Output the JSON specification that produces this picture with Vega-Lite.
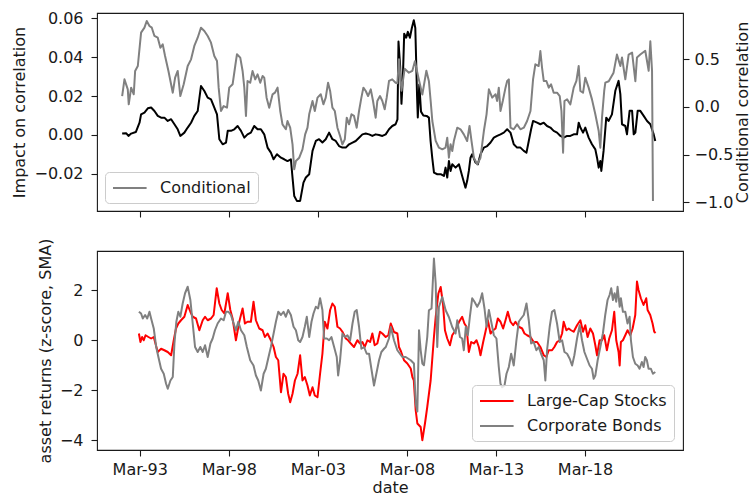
{
"$schema": "https://vega.github.io/schema/vega-lite/v6.json",
"padding": {"left": 11, "top": 9, "right": 2, "bottom": 0},
"background": "white",
"datasets": {
"impact": [
{"date":"1992-03-05","impact":0.0007},{"date":"1992-05-25","impact":0.0009},{"date":"1992-07-12","impact":-0.0005},{"date":"1992-09-05","impact":0.0007},{"date":"1992-12-10","impact":0.0015},
{"date":"1993-02-24","impact":0.0063},{"date":"1993-03-28","impact":0.0106},{"date":"1993-06-05","impact":0.0115},{"date":"1993-08-13","impact":0.0137},{"date":"1993-10-20","impact":0.0141},{"date":"1993-12-27","impact":0.0123},
{"date":"1994-03-05","impact":0.0098},{"date":"1994-05-12","impact":0.0089},{"date":"1994-07-19","impact":0.0089},{"date":"1994-09-26","impact":0.0072},{"date":"1994-12-04","impact":0.0081},
{"date":"1995-02-10","impact":0.0055},{"date":"1995-04-18","impact":0.0029},{"date":"1995-06-11","impact":-0.0005},{"date":"1995-09-02","impact":0.0012},{"date":"1995-11-09","impact":0.0038},
{"date":"1996-01-17","impact":0.0063},{"date":"1996-03-24","impact":0.0098},{"date":"1996-06-01","impact":0.0123},{"date":"1996-08-08","impact":0.0252},{"date":"1996-10-16","impact":0.0226},{"date":"1996-12-23","impact":0.0192},
{"date":"1997-03-01","impact":0.0183},{"date":"1997-04-24","impact":0.0149},{"date":"1997-07-02","impact":0.0106},{"date":"1997-08-19","impact":-0.0022},{"date":"1997-10-26","impact":-0.0048},
{"date":"1998-01-03","impact":-0.0039},{"date":"1998-02-07","impact":0.0021},{"date":"1998-04-14","impact":0.0021},{"date":"1998-06-22","impact":0.0029},{"date":"1998-08-29","impact":0.0046},{"date":"1998-11-06","impact":0.0021},
{"date":"1999-01-13","impact":-0.0014},{"date":"1999-03-20","impact":0.0003},{"date":"1999-05-28","impact":0.0012},{"date":"1999-08-04","impact":0.0046},{"date":"1999-10-12","impact":0.0029},{"date":"1999-12-19","impact":0.0029},
{"date":"2000-02-26","impact":0.0003},{"date":"2000-05-04","impact":-0.0065},{"date":"2000-07-11","impact":-0.0091},{"date":"2000-09-05","impact":-0.0125},{"date":"2000-11-12","impact":-0.0099},
{"date":"2001-02-03","impact":-0.0117},{"date":"2001-04-10","impact":-0.0125},{"date":"2001-06-17","impact":-0.0134},{"date":"2001-08-25","impact":-0.0125},{"date":"2001-09-28","impact":-0.0219},{"date":"2001-11-02","impact":-0.0314},{"date":"2001-12-26","impact":-0.0339},
{"date":"2002-03-03","impact":-0.0339},{"date":"2002-05-10","impact":-0.0245},{"date":"2002-06-28","impact":-0.0219},{"date":"2002-09-05","impact":-0.0202},{"date":"2002-11-12","impact":-0.0082},
{"date":"2003-01-19","impact":-0.0031},{"date":"2003-03-26","impact":-0.0022},{"date":"2003-06-03","impact":-0.0039},{"date":"2003-08-10","impact":-0.0022},{"date":"2003-10-18","impact":0.0012},{"date":"2003-12-25","impact":-0.0022},
{"date":"2004-03-02","impact":-0.0031},{"date":"2004-05-09","impact":-0.0057},{"date":"2004-07-17","impact":-0.0065},{"date":"2004-09-24","impact":-0.0065},{"date":"2004-12-01","impact":-0.0048},
{"date":"2005-02-09","impact":-0.0039},{"date":"2005-04-16","impact":-0.0031},{"date":"2005-06-23","impact":-0.0014},{"date":"2005-08-31","impact":0.0003},{"date":"2005-11-08","impact":0.0007},
{"date":"2006-01-15","impact":0.0003},{"date":"2006-03-23","impact":-0.0005},{"date":"2006-05-30","impact":0.0003},{"date":"2006-08-07","impact":0.0},{"date":"2006-10-14","impact":-0.0005},{"date":"2006-12-22","impact":0.0003},
{"date":"2007-02-28","impact":0.0029},{"date":"2007-05-05","impact":0.0046},{"date":"2007-07-13","impact":0.0055},{"date":"2007-08-20","impact":0.008},{"date":"2007-09-10","impact":0.048},{"date":"2007-10-15","impact":0.035},{"date":"2007-11-10","impact":0.016},{"date":"2007-12-10","impact":0.030},
{"date":"2008-01-05","impact":0.052},{"date":"2008-02-15","impact":0.050},{"date":"2008-03-20","impact":0.053},{"date":"2008-05-01","impact":0.050},{"date":"2008-06-10","impact":0.055},{"date":"2008-07-20","impact":0.059},{"date":"2008-08-20","impact":0.055},{"date":"2008-09-25","impact":0.020},{"date":"2008-10-10","impact":0.009},{"date":"2008-11-10","impact":0.026},{"date":"2008-12-15","impact":0.012},
{"date":"2009-02-01","impact":0.010},{"date":"2009-04-08","impact":0.0098},{"date":"2009-05-26","impact":0.0089},{"date":"2009-06-29","impact":-0.0031},{"date":"2009-08-02","impact":-0.0117},{"date":"2009-09-07","impact":-0.0194},{"date":"2009-11-14","impact":-0.0202},
{"date":"2010-01-22","impact":-0.0202},{"date":"2010-03-29","impact":-0.0211},{"date":"2010-05-02","impact":-0.0168},{"date":"2010-06-06","impact":-0.0219},{"date":"2010-07-10","impact":-0.0134},{"date":"2010-08-13","impact":-0.0185},{"date":"2010-09-17","impact":-0.0151},{"date":"2010-11-24","impact":-0.0168},
{"date":"2011-02-01","impact":-0.0151},{"date":"2011-04-08","impact":-0.0211},{"date":"2011-06-15","impact":-0.0271},{"date":"2011-07-19","impact":-0.0237},{"date":"2011-08-23","impact":-0.0185},{"date":"2011-09-26","impact":-0.0117},{"date":"2011-10-30","impact":-0.0099},
{"date":"2012-01-07","impact":-0.0142},{"date":"2012-02-24","impact":-0.0151},{"date":"2012-04-18","impact":-0.0099},{"date":"2012-06-26","impact":-0.0065},{"date":"2012-09-02","impact":-0.0057},{"date":"2012-11-10","impact":-0.0039},
{"date":"2013-01-17","impact":-0.0014},{"date":"2013-03-25","impact":-0.0005},{"date":"2013-06-02","impact":0.0003},{"date":"2013-08-09","impact":0.0012},{"date":"2013-10-17","impact":0.0029},{"date":"2013-12-24","impact":0.0012},
{"date":"2014-03-01","impact":-0.0048},{"date":"2014-05-08","impact":-0.0065},{"date":"2014-07-16","impact":-0.0065},{"date":"2014-09-23","impact":-0.0082},{"date":"2014-11-17","impact":-0.0091},
{"date":"2015-01-03","impact":-0.0031},{"date":"2015-02-20","impact":0.0029},{"date":"2015-04-01","impact":0.0072},{"date":"2015-06-22","impact":0.0063},{"date":"2015-08-29","impact":0.0055},{"date":"2015-11-06","impact":0.0063},
{"date":"2016-01-13","impact":0.0046},{"date":"2016-03-21","impact":0.0038},{"date":"2016-05-28","impact":0.0021},{"date":"2016-08-05","impact":0.0012},{"date":"2016-10-13","impact":-0.0005},{"date":"2016-12-19","impact":-0.0014},
{"date":"2017-02-27","impact":-0.0005},{"date":"2017-05-05","impact":-0.0005},{"date":"2017-07-12","impact":0.0003},{"date":"2017-09-19","impact":0.0003},{"date":"2017-10-23","impact":0.0063},{"date":"2017-11-26","impact":0.0038},
{"date":"2018-01-20","impact":0.0012},{"date":"2018-03-07","impact":0.0038},{"date":"2018-05-15","impact":-0.0014},{"date":"2018-07-22","impact":-0.0048},{"date":"2018-09-29","impact":-0.0074},{"date":"2018-11-03","impact":-0.0117},{"date":"2018-12-07","impact":-0.0168},
{"date":"2019-01-09","impact":-0.0134},{"date":"2019-01-30","impact":-0.0185},{"date":"2019-03-17","impact":-0.0082},{"date":"2019-05-11","impact":0.0089},{"date":"2019-06-27","impact":0.0072},{"date":"2019-09-05","impact":0.0106},{"date":"2019-11-13","impact":0.0227},
{"date":"2020-01-19","impact":0.0278},{"date":"2020-02-24","impact":0.0210},{"date":"2020-03-29","impact":0.0055},{"date":"2020-06-05","impact":0.0046},{"date":"2020-07-09","impact":0.0003},{"date":"2020-09-01","impact":0.0124},{"date":"2020-10-22","impact":0.0124},{"date":"2020-11-24","impact":0.0003},{"date":"2020-12-28","impact":0.0012},
{"date":"2021-02-13","impact":0.0124},{"date":"2021-04-08","impact":0.0124},{"date":"2021-06-17","impact":0.0098},{"date":"2021-08-25","impact":0.0072},{"date":"2021-10-31","impact":0.0055},{"date":"2022-01-08","impact":0.0003},{"date":"2022-02-09","impact":-0.0031}
],
"cond": [
{"date":"1992-03-05","conditional":0.115},{"date":"1992-04-21","conditional":0.290},{"date":"1992-06-28","conditional":0.185},{"date":"1992-07-18","conditional":0.028},{"date":"1992-09-05","conditional":0.203},{"date":"1992-10-29","conditional":0.133},{"date":"1992-11-26","conditional":0.378},
{"date":"1993-01-20","conditional":0.430},{"date":"1993-03-28","conditional":0.780},{"date":"1993-06-05","conditional":0.832},{"date":"1993-07-22","conditional":0.902},{"date":"1993-09-16","conditional":0.850},{"date":"1993-11-03","conditional":0.832},{"date":"1993-12-27","conditional":0.745},
{"date":"1994-03-05","conditional":0.727},{"date":"1994-04-28","conditional":0.622},{"date":"1994-06-15","conditional":0.657},{"date":"1994-08-02","conditional":0.535},{"date":"1994-10-10","conditional":0.378},
{"date":"1995-01-07","conditional":0.150},{"date":"1995-02-24","conditional":0.308},{"date":"1995-04-18","conditional":0.378},{"date":"1995-06-11","conditional":0.115},{"date":"1995-08-19","conditional":0.238},{"date":"1995-11-09","conditional":0.430},
{"date":"1996-01-17","conditional":0.500},{"date":"1996-03-24","conditional":0.640},{"date":"1996-06-01","conditional":0.727},{"date":"1996-08-08","conditional":0.832},{"date":"1996-10-16","conditional":0.797},{"date":"1996-12-23","conditional":0.745},
{"date":"1997-03-01","conditional":0.675},{"date":"1997-05-08","conditional":0.535},{"date":"1997-07-02","conditional":0.483},{"date":"1997-08-05","conditional":0.203},{"date":"1997-09-22","conditional":-0.042},{"date":"1997-11-16","conditional":0.010},
{"date":"1998-01-23","conditional":-0.007},{"date":"1998-03-10","conditional":0.203},{"date":"1998-05-18","conditional":0.238},{"date":"1998-07-11","conditional":0.430},{"date":"1998-08-15","conditional":0.553},{"date":"1998-10-22","conditional":0.518},{"date":"1998-12-09","conditional":0.378},
{"date":"1999-01-13","conditional":0.203},{"date":"1999-02-16","conditional":-0.094},{"date":"1999-03-20","conditional":0.273},{"date":"1999-05-14","conditional":0.255},{"date":"1999-07-01","conditional":0.378},{"date":"1999-08-25","conditional":0.290},{"date":"1999-10-12","conditional":0.343},{"date":"1999-12-06","conditional":0.255},
{"date":"2000-01-23","conditional":0.325},{"date":"2000-02-26","conditional":0.308},{"date":"2000-04-14","conditional":0.098},{"date":"2000-06-07","conditional":-0.007},{"date":"2000-08-15","conditional":0.133},{"date":"2000-10-02","conditional":0.150},{"date":"2000-11-25","conditional":0.203},
{"date":"2001-01-19","conditional":-0.042},{"date":"2001-03-06","conditional":-0.182},{"date":"2001-05-14","conditional":-0.234},{"date":"2001-06-17","conditional":-0.147},{"date":"2001-08-11","conditional":-0.217},{"date":"2001-09-28","conditional":-0.392},{"date":"2001-11-02","conditional":-0.654},{"date":"2001-12-06","conditional":-0.567},
{"date":"2002-02-13","conditional":-0.532},{"date":"2002-04-20","conditional":-0.444},{"date":"2002-06-14","conditional":-0.287},{"date":"2002-08-01","conditional":-0.217},{"date":"2002-09-05","conditional":-0.077},{"date":"2002-11-12","conditional":0.063},{"date":"2002-12-29","conditional":-0.042},
{"date":"2003-02-22","conditional":0.098},{"date":"2003-04-30","conditional":0.133},{"date":"2003-06-23","conditional":0.028},{"date":"2003-08-10","conditional":0.098},{"date":"2003-09-27","conditional":0.255},{"date":"2003-11-08","conditional":0.168},{"date":"2003-12-25","conditional":-0.007},
{"date":"2004-02-12","conditional":-0.042},{"date":"2004-04-06","conditional":-0.217},{"date":"2004-05-30","conditional":-0.304},{"date":"2004-07-17","conditional":-0.392},{"date":"2004-09-04","conditional":-0.339},{"date":"2004-10-14","conditional":-0.112},{"date":"2004-12-01","conditional":-0.182},
{"date":"2005-01-19","conditional":-0.077},{"date":"2005-03-12","conditional":-0.094},{"date":"2005-05-06","conditional":-0.217},{"date":"2005-06-23","conditional":-0.042},{"date":"2005-08-10","conditional":0.098},{"date":"2005-09-20","conditional":0.203},{"date":"2005-11-08","conditional":0.168},{"date":"2005-12-25","conditional":0.115},
{"date":"2006-02-19","conditional":0.185},{"date":"2006-04-06","conditional":0.063},{"date":"2006-05-30","conditional":-0.112},{"date":"2006-07-03","conditional":0.063},{"date":"2006-08-27","conditional":0.115},{"date":"2006-10-14","conditional":0.063},{"date":"2006-12-01","conditional":-0.024},
{"date":"2007-01-11","conditional":0.098},{"date":"2007-02-28","conditional":0.273},{"date":"2007-05-05","conditional":0.290},{"date":"2007-07-13","conditional":0.255},{"date":"2007-08-18","conditional":0.25},{"date":"2007-09-20","conditional":0.50},{"date":"2007-11-10","conditional":0.17},
{"date":"2008-01-15","conditional":0.40},{"date":"2008-04-10","conditional":0.36},{"date":"2008-06-21","conditional":0.38},{"date":"2008-08-12","conditional":0.48},{"date":"2008-10-22","conditional":0.31},
{"date":"2009-01-11","conditional":0.13},{"date":"2009-04-04","conditional":0.38},{"date":"2009-05-26","conditional":0.27},{"date":"2009-07-01","conditional":0.063},{"date":"2009-08-04","conditional":-0.147},{"date":"2009-10-12","conditional":-0.356},{"date":"2009-12-18","conditional":-0.427},
{"date":"2010-02-25","conditional":-0.444},{"date":"2010-05-02","conditional":-0.427},{"date":"2010-06-06","conditional":-0.322},{"date":"2010-07-10","conditional":-0.532},{"date":"2010-08-13","conditional":-0.392},{"date":"2010-09-17","conditional":-0.462},{"date":"2010-10-20","conditional":-0.357},{"date":"2010-12-28","conditional":-0.217},
{"date":"2011-03-05","conditional":-0.234},{"date":"2011-05-12","conditional":-0.287},{"date":"2011-07-19","conditional":-0.357},{"date":"2011-09-06","conditional":-0.199},{"date":"2011-10-17","conditional":-0.357},{"date":"2011-12-04","conditional":-0.532},
{"date":"2012-02-11","conditional":-0.601},{"date":"2012-04-18","conditional":-0.532},{"date":"2012-06-26","conditional":-0.252},{"date":"2012-08-20","conditional":-0.077},{"date":"2012-10-07","conditional":0.185},{"date":"2012-12-14","conditional":0.098},
{"date":"2013-02-21","conditional":0.133},{"date":"2013-03-25","conditional":0.063},{"date":"2013-04-28","conditional":0.203},{"date":"2013-06-02","conditional":-0.042},{"date":"2013-07-19","conditional":0.063},{"date":"2013-09-13","conditional":0.203},{"date":"2013-10-17","conditional":0.273},{"date":"2013-11-20","conditional":0.290},{"date":"2013-12-24","conditional":-0.217},
{"date":"2014-03-01","conditional":-0.234},{"date":"2014-05-08","conditional":-0.182},{"date":"2014-07-16","conditional":-0.234},{"date":"2014-09-23","conditional":-0.217},{"date":"2014-11-30","conditional":-0.147},
{"date":"2015-02-07","conditional":-0.042},{"date":"2015-04-01","conditional":0.290},{"date":"2015-05-18","conditional":0.448},{"date":"2015-07-25","conditional":0.430},{"date":"2015-08-29","conditional":0.587},{"date":"2015-10-02","conditional":0.413},{"date":"2015-11-06","conditional":0.273},{"date":"2015-12-30","conditional":0.273},
{"date":"2016-02-17","conditional":0.203},{"date":"2016-04-04","conditional":0.238},{"date":"2016-05-28","conditional":0.150},{"date":"2016-08-05","conditional":0.150},{"date":"2016-09-29","conditional":0.115},{"date":"2016-11-03","conditional":-0.042},{"date":"2016-12-07","conditional":-0.479},
{"date":"2017-01-04","conditional":0.063},{"date":"2017-02-27","conditional":0.080},{"date":"2017-05-05","conditional":0.028},{"date":"2017-07-12","conditional":0.203},{"date":"2017-09-06","conditional":0.273},{"date":"2017-10-23","conditional":0.430},{"date":"2017-11-26","conditional":0.168},
{"date":"2018-01-20","conditional":0.150},{"date":"2018-03-07","conditional":0.308},{"date":"2018-05-15","conditional":0.203},{"date":"2018-07-22","conditional":0.080},{"date":"2018-09-29","conditional":-0.077},{"date":"2018-12-07","conditional":-0.252},
{"date":"2019-01-09","conditional":-0.427},{"date":"2019-02-13","conditional":-0.112},{"date":"2019-03-30","conditional":0.168},{"date":"2019-04-22","conditional":0.255},{"date":"2019-07-01","conditional":0.27},{"date":"2019-10-08","conditional":0.36},{"date":"2019-12-16","conditional":0.55},
{"date":"2020-02-24","conditional":0.43},{"date":"2020-03-29","conditional":0.52},{"date":"2020-06-05","conditional":0.29},{"date":"2020-08-12","conditional":0.55},{"date":"2020-10-22","conditional":0.57},{"date":"2020-12-28","conditional":0.27},
{"date":"2021-01-30","conditional":0.52},{"date":"2021-04-08","conditional":0.55},{"date":"2021-07-19","conditional":0.59},{"date":"2021-09-27","conditional":0.38},{"date":"2021-10-31","conditional":0.69},{"date":"2021-12-05","conditional":0.38},{"date":"2021-12-24","conditional":-0.985}
],
"assets": [
{"date":"1993-02-11","series":"Large-Cap Stocks","zscore":0.27},{"date":"1993-03-15","series":"Large-Cap Stocks","zscore":-0.07},{"date":"1993-04-18","series":"Large-Cap Stocks","zscore":0.13},{"date":"1993-05-22","series":"Large-Cap Stocks","zscore":0.0},{"date":"1993-06-28","series":"Large-Cap Stocks","zscore":0.20},{"date":"1993-08-26","series":"Large-Cap Stocks","zscore":0.13},{"date":"1993-10-20","series":"Large-Cap Stocks","zscore":0.07},{"date":"1993-12-13","series":"Large-Cap Stocks","zscore":0.13},
{"date":"1994-01-17","series":"Large-Cap Stocks","zscore":-0.13},{"date":"1994-03-05","series":"Large-Cap Stocks","zscore":-0.47},{"date":"1994-05-12","series":"Large-Cap Stocks","zscore":-0.34},{"date":"1994-07-19","series":"Large-Cap Stocks","zscore":-0.40},{"date":"1994-09-26","series":"Large-Cap Stocks","zscore":-0.47},{"date":"1994-12-04","series":"Large-Cap Stocks","zscore":-0.60},
{"date":"1995-01-27","series":"Large-Cap Stocks","zscore":0.0},{"date":"1995-03-14","series":"Large-Cap Stocks","zscore":0.47},{"date":"1995-05-01","series":"Large-Cap Stocks","zscore":0.67},{"date":"1995-06-25","series":"Large-Cap Stocks","zscore":0.80},{"date":"1995-09-02","series":"Large-Cap Stocks","zscore":0.94},{"date":"1995-11-09","series":"Large-Cap Stocks","zscore":1.41},
{"date":"1996-01-03","series":"Large-Cap Stocks","zscore":1.14},{"date":"1996-02-20","series":"Large-Cap Stocks","zscore":0.94},{"date":"1996-04-28","series":"Large-Cap Stocks","zscore":0.87},{"date":"1996-07-05","series":"Large-Cap Stocks","zscore":0.40},{"date":"1996-09-12","series":"Large-Cap Stocks","zscore":0.80},{"date":"1996-10-30","series":"Large-Cap Stocks","zscore":0.94},{"date":"1996-12-23","series":"Large-Cap Stocks","zscore":0.80},
{"date":"1997-03-01","series":"Large-Cap Stocks","zscore":0.87},{"date":"1997-04-24","series":"Large-Cap Stocks","zscore":1.01},{"date":"1997-06-26","series":"Large-Cap Stocks","zscore":2.08},{"date":"1997-08-19","series":"Large-Cap Stocks","zscore":1.47},{"date":"1997-10-06","series":"Large-Cap Stocks","zscore":1.21},{"date":"1997-11-30","series":"Large-Cap Stocks","zscore":1.07},
{"date":"1998-02-07","series":"Large-Cap Stocks","zscore":1.88},{"date":"1998-04-01","series":"Large-Cap Stocks","zscore":1.21},{"date":"1998-05-18","series":"Large-Cap Stocks","zscore":0.87},{"date":"1998-07-25","series":"Large-Cap Stocks","zscore":0.0},{"date":"1998-10-02","series":"Large-Cap Stocks","zscore":0.74},{"date":"1998-12-09","series":"Large-Cap Stocks","zscore":1.27},
{"date":"1999-01-26","series":"Large-Cap Stocks","zscore":0.67},{"date":"1999-03-20","series":"Large-Cap Stocks","zscore":0.74},{"date":"1999-05-28","series":"Large-Cap Stocks","zscore":0.74},{"date":"1999-07-21","series":"Large-Cap Stocks","zscore":1.54},{"date":"1999-09-08","series":"Large-Cap Stocks","zscore":0.80},{"date":"1999-11-15","series":"Large-Cap Stocks","zscore":0.47},
{"date":"2000-01-23","series":"Large-Cap Stocks","zscore":0.40},{"date":"2000-03-10","series":"Large-Cap Stocks","zscore":0.13},{"date":"2000-05-04","series":"Large-Cap Stocks","zscore":0.27},{"date":"2000-07-11","series":"Large-Cap Stocks","zscore":0.0},{"date":"2000-09-05","series":"Large-Cap Stocks","zscore":-0.27},{"date":"2000-10-22","series":"Large-Cap Stocks","zscore":-0.67},{"date":"2000-12-09","series":"Large-Cap Stocks","zscore":-0.80},
{"date":"2001-02-03","series":"Large-Cap Stocks","zscore":-2.08},{"date":"2001-03-27","series":"Large-Cap Stocks","zscore":-1.34},{"date":"2001-05-14","series":"Large-Cap Stocks","zscore":-1.47},{"date":"2001-07-01","series":"Large-Cap Stocks","zscore":-2.14},{"date":"2001-08-11","series":"Large-Cap Stocks","zscore":-2.48},{"date":"2001-09-28","series":"Large-Cap Stocks","zscore":-2.14},{"date":"2001-11-16","series":"Large-Cap Stocks","zscore":-1.61},
{"date":"2002-01-09","series":"Large-Cap Stocks","zscore":-1.34},{"date":"2002-03-03","series":"Large-Cap Stocks","zscore":-0.60},{"date":"2002-04-20","series":"Large-Cap Stocks","zscore":-1.61},{"date":"2002-06-07","series":"Large-Cap Stocks","zscore":-1.47},{"date":"2002-08-01","series":"Large-Cap Stocks","zscore":-1.81},{"date":"2002-09-18","series":"Large-Cap Stocks","zscore":-2.21},{"date":"2002-11-12","series":"Large-Cap Stocks","zscore":-1.88},{"date":"2002-12-29","series":"Large-Cap Stocks","zscore":-2.21},
{"date":"2003-02-22","series":"Large-Cap Stocks","zscore":-2.28},{"date":"2003-04-16","series":"Large-Cap Stocks","zscore":-1.34},{"date":"2003-06-03","series":"Large-Cap Stocks","zscore":-0.54},{"date":"2003-07-20","series":"Large-Cap Stocks","zscore":0.74},{"date":"2003-09-14","series":"Large-Cap Stocks","zscore":0.47},{"date":"2003-11-08","series":"Large-Cap Stocks","zscore":1.21},{"date":"2003-12-25","series":"Large-Cap Stocks","zscore":1.47},
{"date":"2004-02-12","series":"Large-Cap Stocks","zscore":1.34},{"date":"2004-04-06","series":"Large-Cap Stocks","zscore":0.54},{"date":"2004-05-30","series":"Large-Cap Stocks","zscore":0.47},{"date":"2004-07-17","series":"Large-Cap Stocks","zscore":0.34},{"date":"2004-09-24","series":"Large-Cap Stocks","zscore":0.07},{"date":"2004-11-11","series":"Large-Cap Stocks","zscore":0.0},
{"date":"2005-01-05","series":"Large-Cap Stocks","zscore":-0.13},{"date":"2005-03-12","series":"Large-Cap Stocks","zscore":-0.27},{"date":"2005-05-20","series":"Large-Cap Stocks","zscore":0.0},{"date":"2005-07-14","series":"Large-Cap Stocks","zscore":-0.13},{"date":"2005-08-31","series":"Large-Cap Stocks","zscore":-0.07},{"date":"2005-10-18","series":"Large-Cap Stocks","zscore":-0.27},{"date":"2005-12-12","series":"Large-Cap Stocks","zscore":0.0},
{"date":"2006-02-05","series":"Large-Cap Stocks","zscore":-0.07},{"date":"2006-03-23","series":"Large-Cap Stocks","zscore":0.27},{"date":"2006-05-10","series":"Large-Cap Stocks","zscore":-0.20},{"date":"2006-07-03","series":"Large-Cap Stocks","zscore":-0.13},{"date":"2006-08-27","series":"Large-Cap Stocks","zscore":0.34},{"date":"2006-10-14","series":"Large-Cap Stocks","zscore":0.27},{"date":"2006-12-22","series":"Large-Cap Stocks","zscore":0.13},
{"date":"2007-02-14","series":"Large-Cap Stocks","zscore":0.20},{"date":"2007-04-05","series":"Large-Cap Stocks","zscore":0.67},{"date":"2007-06-10","series":"Large-Cap Stocks","zscore":0.33},{"date":"2007-08-18","series":"Large-Cap Stocks","zscore":0.27},{"date":"2007-09-20","series":"Large-Cap Stocks","zscore":-0.27},{"date":"2007-11-01","series":"Large-Cap Stocks","zscore":-0.45},
{"date":"2008-01-01","series":"Large-Cap Stocks","zscore":-0.80},{"date":"2008-03-10","series":"Large-Cap Stocks","zscore":-0.93},{"date":"2008-05-18","series":"Large-Cap Stocks","zscore":-1.13},{"date":"2008-06-21","series":"Large-Cap Stocks","zscore":-1.47},{"date":"2008-07-20","series":"Large-Cap Stocks","zscore":-1.6},{"date":"2008-08-28","series":"Large-Cap Stocks","zscore":-2.8},{"date":"2008-10-01","series":"Large-Cap Stocks","zscore":-3.33},{"date":"2008-12-08","series":"Large-Cap Stocks","zscore":-3.47},
{"date":"2009-01-11","series":"Large-Cap Stocks","zscore":-4.0},{"date":"2009-03-06","series":"Large-Cap Stocks","zscore":-3.33},{"date":"2009-04-22","series":"Large-Cap Stocks","zscore":-2.67},{"date":"2009-07-01","series":"Large-Cap Stocks","zscore":-1.6},{"date":"2009-09-06","series":"Large-Cap Stocks","zscore":0.13},{"date":"2009-10-12","series":"Large-Cap Stocks","zscore":0.93},{"date":"2009-12-06","series":"Large-Cap Stocks","zscore":1.87},
{"date":"2010-01-22","series":"Large-Cap Stocks","zscore":2.13},{"date":"2010-03-10","series":"Large-Cap Stocks","zscore":1.47},{"date":"2010-04-20","series":"Large-Cap Stocks","zscore":0.4},{"date":"2010-06-06","series":"Large-Cap Stocks","zscore":0.07},{"date":"2010-07-31","series":"Large-Cap Stocks","zscore":-0.2},{"date":"2010-09-16","series":"Large-Cap Stocks","zscore":0.2},{"date":"2010-11-24","series":"Large-Cap Stocks","zscore":0.4},
{"date":"2011-02-01","series":"Large-Cap Stocks","zscore":0.73},{"date":"2011-04-08","series":"Large-Cap Stocks","zscore":0.94},{"date":"2011-05-24","series":"Large-Cap Stocks","zscore":0.67},{"date":"2011-07-06","series":"Large-Cap Stocks","zscore":0.54},{"date":"2011-08-23","series":"Large-Cap Stocks","zscore":-0.47},{"date":"2011-10-10","series":"Large-Cap Stocks","zscore":-0.07},{"date":"2011-12-04","series":"Large-Cap Stocks","zscore":-0.13},
{"date":"2012-01-28","series":"Large-Cap Stocks","zscore":0.0},{"date":"2012-03-15","series":"Large-Cap Stocks","zscore":-0.27},{"date":"2012-04-18","series":"Large-Cap Stocks","zscore":-0.60},{"date":"2012-06-12","series":"Large-Cap Stocks","zscore":-0.07},{"date":"2012-07-29","series":"Large-Cap Stocks","zscore":0.34},{"date":"2012-09-16","series":"Large-Cap Stocks","zscore":0.80},{"date":"2012-11-10","series":"Large-Cap Stocks","zscore":0.27},
{"date":"2013-01-04","series":"Large-Cap Stocks","zscore":0.40},{"date":"2013-02-21","series":"Large-Cap Stocks","zscore":0.47},{"date":"2013-04-08","series":"Large-Cap Stocks","zscore":0.87},{"date":"2013-06-02","series":"Large-Cap Stocks","zscore":0.74},{"date":"2013-07-26","series":"Large-Cap Stocks","zscore":0.47},{"date":"2013-09-13","series":"Large-Cap Stocks","zscore":0.80},{"date":"2013-10-30","series":"Large-Cap Stocks","zscore":1.14},{"date":"2013-12-24","series":"Large-Cap Stocks","zscore":0.74},
{"date":"2014-02-17","series":"Large-Cap Stocks","zscore":0.60},{"date":"2014-04-05","series":"Large-Cap Stocks","zscore":0.74},{"date":"2014-06-12","series":"Large-Cap Stocks","zscore":0.54},{"date":"2014-08-20","series":"Large-Cap Stocks","zscore":0.47},{"date":"2014-10-07","series":"Large-Cap Stocks","zscore":0.27},{"date":"2014-11-30","series":"Large-Cap Stocks","zscore":0.20},
{"date":"2015-02-07","series":"Large-Cap Stocks","zscore":0.13},{"date":"2015-04-14","series":"Large-Cap Stocks","zscore":-0.07},{"date":"2015-06-22","series":"Large-Cap Stocks","zscore":-0.07},{"date":"2015-08-29","series":"Large-Cap Stocks","zscore":-0.27},{"date":"2015-11-06","series":"Large-Cap Stocks","zscore":-0.60},{"date":"2015-12-30","series":"Large-Cap Stocks","zscore":-0.67},
{"date":"2016-02-17","series":"Large-Cap Stocks","zscore":-0.40},{"date":"2016-04-24","series":"Large-Cap Stocks","zscore":-0.40},{"date":"2016-06-11","series":"Large-Cap Stocks","zscore":-0.27},{"date":"2016-08-05","series":"Large-Cap Stocks","zscore":-0.07},{"date":"2016-09-29","series":"Large-Cap Stocks","zscore":0.0},{"date":"2016-11-16","series":"Large-Cap Stocks","zscore":0.27},{"date":"2016-12-19","series":"Large-Cap Stocks","zscore":0.74},
{"date":"2017-02-13","series":"Large-Cap Stocks","zscore":0.40},{"date":"2017-04-01","series":"Large-Cap Stocks","zscore":0.47},{"date":"2017-05-18","series":"Large-Cap Stocks","zscore":0.40},{"date":"2017-07-12","series":"Large-Cap Stocks","zscore":0.34},{"date":"2017-09-19","series":"Large-Cap Stocks","zscore":0.60},{"date":"2017-11-26","series":"Large-Cap Stocks","zscore":0.80},
{"date":"2018-01-20","series":"Large-Cap Stocks","zscore":0.34},{"date":"2018-03-07","series":"Large-Cap Stocks","zscore":0.60},{"date":"2018-04-24","series":"Large-Cap Stocks","zscore":0.13},{"date":"2018-06-18","series":"Large-Cap Stocks","zscore":0.47},{"date":"2018-08-12","series":"Large-Cap Stocks","zscore":0.27},{"date":"2018-09-29","series":"Large-Cap Stocks","zscore":-0.20},{"date":"2018-11-03","series":"Large-Cap Stocks","zscore":-0.60},{"date":"2018-12-26","series":"Large-Cap Stocks","zscore":0.0},
{"date":"2019-02-13","series":"Large-Cap Stocks","zscore":0.0},{"date":"2019-03-30","series":"Large-Cap Stocks","zscore":0.20},{"date":"2019-05-24","series":"Large-Cap Stocks","zscore":-0.40},{"date":"2019-07-11","series":"Large-Cap Stocks","zscore":0.07},{"date":"2019-09-05","series":"Large-Cap Stocks","zscore":0.40},{"date":"2019-10-22","series":"Large-Cap Stocks","zscore":1.14},{"date":"2019-12-02","series":"Large-Cap Stocks","zscore":0.0},
{"date":"2020-01-19","series":"Large-Cap Stocks","zscore":-0.47},{"date":"2020-02-10","series":"Large-Cap Stocks","zscore":-1.01},{"date":"2020-03-06","series":"Large-Cap Stocks","zscore":-0.07},{"date":"2020-04-17","series":"Large-Cap Stocks","zscore":0.0},{"date":"2020-06-04","series":"Large-Cap Stocks","zscore":0.20},{"date":"2020-07-21","series":"Large-Cap Stocks","zscore":0.40},{"date":"2020-09-15","series":"Large-Cap Stocks","zscore":0.20},{"date":"2020-11-02","series":"Large-Cap Stocks","zscore":0.47},{"date":"2020-12-26","series":"Large-Cap Stocks","zscore":1.01},
{"date":"2021-01-30","series":"Large-Cap Stocks","zscore":2.35},{"date":"2021-03-03","series":"Large-Cap Stocks","zscore":2.01},{"date":"2021-04-20","series":"Large-Cap Stocks","zscore":1.68},{"date":"2021-06-14","series":"Large-Cap Stocks","zscore":1.41},{"date":"2021-08-08","series":"Large-Cap Stocks","zscore":1.68},{"date":"2021-09-05","series":"Large-Cap Stocks","zscore":1.21},{"date":"2021-10-29","series":"Large-Cap Stocks","zscore":1.01},{"date":"2021-12-16","series":"Large-Cap Stocks","zscore":0.67},{"date":"2022-01-19","series":"Large-Cap Stocks","zscore":0.34},{"date":"2022-02-16","series":"Large-Cap Stocks","zscore":0.29},
{"date":"1993-02-11","series":"Corporate Bonds","zscore":1.14},{"date":"1993-03-28","series":"Corporate Bonds","zscore":1.07},{"date":"1993-05-02","series":"Corporate Bonds","zscore":0.87},{"date":"1993-06-19","series":"Corporate Bonds","zscore":1.01},{"date":"1993-08-01","series":"Corporate Bonds","zscore":0.87},{"date":"1993-09-16","series":"Corporate Bonds","zscore":1.14},{"date":"1993-10-20","series":"Corporate Bonds","zscore":0.87},{"date":"1993-12-13","series":"Corporate Bonds","zscore":0.47},
{"date":"1994-02-01","series":"Corporate Bonds","zscore":-0.27},{"date":"1994-03-18","series":"Corporate Bonds","zscore":-0.67},{"date":"1994-05-12","series":"Corporate Bonds","zscore":-1.14},{"date":"1994-07-06","series":"Corporate Bonds","zscore":-1.34},{"date":"1994-08-23","series":"Corporate Bonds","zscore":-1.74},{"date":"1994-09-26","series":"Corporate Bonds","zscore":-1.94},{"date":"1994-11-20","series":"Corporate Bonds","zscore":-1.61},
{"date":"1995-01-07","series":"Corporate Bonds","zscore":-1.47},{"date":"1995-02-10","series":"Corporate Bonds","zscore":-0.13},{"date":"1995-03-21","series":"Corporate Bonds","zscore":0.74},{"date":"1995-05-01","series":"Corporate Bonds","zscore":1.14},{"date":"1995-06-11","series":"Corporate Bonds","zscore":0.94},{"date":"1995-07-29","series":"Corporate Bonds","zscore":1.47},{"date":"1995-09-16","series":"Corporate Bonds","zscore":1.88},{"date":"1995-11-09","series":"Corporate Bonds","zscore":2.14},
{"date":"1996-01-03","series":"Corporate Bonds","zscore":1.61},{"date":"1996-02-20","series":"Corporate Bonds","zscore":0.67},{"date":"1996-04-08","series":"Corporate Bonds","zscore":-0.27},{"date":"1996-06-01","series":"Corporate Bonds","zscore":-0.47},{"date":"1996-07-25","series":"Corporate Bonds","zscore":-0.27},{"date":"1996-09-12","series":"Corporate Bonds","zscore":-0.47},{"date":"1996-10-30","series":"Corporate Bonds","zscore":-0.20},{"date":"1996-12-23","series":"Corporate Bonds","zscore":-0.67},
{"date":"1997-02-17","series":"Corporate Bonds","zscore":-0.13},{"date":"1997-04-04","series":"Corporate Bonds","zscore":0.07},{"date":"1997-05-21","series":"Corporate Bonds","zscore":0.40},{"date":"1997-07-15","series":"Corporate Bonds","zscore":0.67},{"date":"1997-09-22","series":"Corporate Bonds","zscore":0.87},{"date":"1997-11-16","series":"Corporate Bonds","zscore":0.80},
{"date":"1998-01-03","series":"Corporate Bonds","zscore":1.14},{"date":"1998-02-20","series":"Corporate Bonds","zscore":1.14},{"date":"1998-04-14","series":"Corporate Bonds","zscore":1.01},{"date":"1998-06-08","series":"Corporate Bonds","zscore":0.67},{"date":"1998-07-25","series":"Corporate Bonds","zscore":0.40},{"date":"1998-09-12","series":"Corporate Bonds","zscore":0.74},{"date":"1998-11-06","series":"Corporate Bonds","zscore":0.40},
{"date":"1999-01-13","series":"Corporate Bonds","zscore":0.20},{"date":"1999-03-06","series":"Corporate Bonds","zscore":-0.27},{"date":"1999-05-14","series":"Corporate Bonds","zscore":-0.80},{"date":"1999-07-21","series":"Corporate Bonds","zscore":-1.01},{"date":"1999-09-08","series":"Corporate Bonds","zscore":-1.41},{"date":"1999-10-26","series":"Corporate Bonds","zscore":-1.61},{"date":"1999-12-19","series":"Corporate Bonds","zscore":-2.01},
{"date":"2000-02-13","series":"Corporate Bonds","zscore":-1.34},{"date":"2000-03-30","series":"Corporate Bonds","zscore":-1.14},{"date":"2000-05-24","series":"Corporate Bonds","zscore":-0.67},{"date":"2000-07-11","series":"Corporate Bonds","zscore":-0.27},{"date":"2000-09-05","series":"Corporate Bonds","zscore":0.27},{"date":"2000-10-22","series":"Corporate Bonds","zscore":0.74},{"date":"2000-12-09","series":"Corporate Bonds","zscore":1.14},
{"date":"2001-02-03","series":"Corporate Bonds","zscore":1.01},{"date":"2001-03-27","series":"Corporate Bonds","zscore":1.14},{"date":"2001-05-14","series":"Corporate Bonds","zscore":0.94},{"date":"2001-07-01","series":"Corporate Bonds","zscore":1.21},{"date":"2001-08-25","series":"Corporate Bonds","zscore":1.01},{"date":"2001-10-19","series":"Corporate Bonds","zscore":0.54},{"date":"2001-12-06","series":"Corporate Bonds","zscore":0.40},
{"date":"2002-01-23","series":"Corporate Bonds","zscore":0.0},{"date":"2002-03-03","series":"Corporate Bonds","zscore":-0.07},{"date":"2002-04-20","series":"Corporate Bonds","zscore":0.13},{"date":"2002-06-07","series":"Corporate Bonds","zscore":0.54},{"date":"2002-07-18","series":"Corporate Bonds","zscore":0.94},{"date":"2002-09-05","series":"Corporate Bonds","zscore":0.13},{"date":"2002-10-22","series":"Corporate Bonds","zscore":0.74},{"date":"2002-12-02","series":"Corporate Bonds","zscore":1.07},
{"date":"2003-01-19","series":"Corporate Bonds","zscore":1.34},{"date":"2003-03-06","series":"Corporate Bonds","zscore":1.27},{"date":"2003-04-16","series":"Corporate Bonds","zscore":1.68},{"date":"2003-06-03","series":"Corporate Bonds","zscore":1.21},{"date":"2003-07-07","series":"Corporate Bonds","zscore":0.07},{"date":"2003-09-01","series":"Corporate Bonds","zscore":0.07},{"date":"2003-10-18","series":"Corporate Bonds","zscore":0.0},{"date":"2003-12-05","series":"Corporate Bonds","zscore":0.13},
{"date":"2004-01-29","series":"Corporate Bonds","zscore":-0.27},{"date":"2004-03-23","series":"Corporate Bonds","zscore":-0.67},{"date":"2004-04-20","series":"Corporate Bonds","zscore":-1.41},{"date":"2004-05-30","series":"Corporate Bonds","zscore":-0.80},{"date":"2004-07-17","series":"Corporate Bonds","zscore":0.27},{"date":"2004-09-04","series":"Corporate Bonds","zscore":0.13},{"date":"2004-10-28","series":"Corporate Bonds","zscore":0.20},{"date":"2004-12-22","series":"Corporate Bonds","zscore":0.0},
{"date":"2005-02-09","series":"Corporate Bonds","zscore":0.67},{"date":"2005-03-26","series":"Corporate Bonds","zscore":1.14},{"date":"2005-05-06","series":"Corporate Bonds","zscore":1.21},{"date":"2005-06-23","series":"Corporate Bonds","zscore":0.54},{"date":"2005-08-10","series":"Corporate Bonds","zscore":-0.34},{"date":"2005-10-04","series":"Corporate Bonds","zscore":-0.27},{"date":"2005-11-28","series":"Corporate Bonds","zscore":-0.54},
{"date":"2006-01-15","series":"Corporate Bonds","zscore":-0.54},{"date":"2006-03-03","series":"Corporate Bonds","zscore":-1.14},{"date":"2006-04-26","series":"Corporate Bonds","zscore":-1.81},{"date":"2006-06-20","series":"Corporate Bonds","zscore":-1.27},{"date":"2006-08-07","series":"Corporate Bonds","zscore":-0.80},{"date":"2006-09-24","series":"Corporate Bonds","zscore":-0.47},{"date":"2006-11-18","series":"Corporate Bonds","zscore":-0.34},{"date":"2006-12-24","series":"Corporate Bonds","zscore":-0.27},
{"date":"2007-02-27","series":"Corporate Bonds","zscore":0.07},{"date":"2007-04-05","series":"Corporate Bonds","zscore":0.53},{"date":"2007-06-10","series":"Corporate Bonds","zscore":0.0},{"date":"2007-08-18","series":"Corporate Bonds","zscore":-0.4},{"date":"2007-11-27","series":"Corporate Bonds","zscore":-0.67},
{"date":"2008-02-05","series":"Corporate Bonds","zscore":-0.67},{"date":"2008-05-18","series":"Corporate Bonds","zscore":-0.8},{"date":"2008-07-23","series":"Corporate Bonds","zscore":-0.93},{"date":"2008-08-28","series":"Corporate Bonds","zscore":-2.53},{"date":"2008-10-01","series":"Corporate Bonds","zscore":-2.85},{"date":"2008-11-04","series":"Corporate Bonds","zscore":0.4},{"date":"2008-12-08","series":"Corporate Bonds","zscore":-0.4},
{"date":"2009-01-11","series":"Corporate Bonds","zscore":-0.93},{"date":"2009-02-14","series":"Corporate Bonds","zscore":-1.0},{"date":"2009-04-22","series":"Corporate Bonds","zscore":0.13},{"date":"2009-05-26","series":"Corporate Bonds","zscore":1.2},{"date":"2009-07-19","series":"Corporate Bonds","zscore":1.27},{"date":"2009-09-06","series":"Corporate Bonds","zscore":3.27},{"date":"2009-10-12","series":"Corporate Bonds","zscore":2.27},{"date":"2009-11-13","series":"Corporate Bonds","zscore":-0.27},{"date":"2009-12-17","series":"Corporate Bonds","zscore":1.33},
{"date":"2010-02-24","series":"Corporate Bonds","zscore":1.73},{"date":"2010-05-04","series":"Corporate Bonds","zscore":1.2},{"date":"2010-07-09","series":"Corporate Bonds","zscore":0.93},{"date":"2010-09-16","series":"Corporate Bonds","zscore":0.53},{"date":"2010-11-24","series":"Corporate Bonds","zscore":0.27},{"date":"2010-12-28","series":"Corporate Bonds","zscore":0.8},
{"date":"2011-02-22","series":"Corporate Bonds","zscore":0.13},{"date":"2011-04-08","series":"Corporate Bonds","zscore":0.07},{"date":"2011-05-12","series":"Corporate Bonds","zscore":-0.40},{"date":"2011-06-22","series":"Corporate Bonds","zscore":0.54},{"date":"2011-08-02","series":"Corporate Bonds","zscore":0.20},{"date":"2011-09-13","series":"Corporate Bonds","zscore":0.94},{"date":"2011-10-31","series":"Corporate Bonds","zscore":1.68},{"date":"2011-12-17","series":"Corporate Bonds","zscore":1.54},
{"date":"2012-02-11","series":"Corporate Bonds","zscore":1.34},{"date":"2012-04-05","series":"Corporate Bonds","zscore":1.54},{"date":"2012-05-22","series":"Corporate Bonds","zscore":1.88},{"date":"2012-07-09","series":"Corporate Bonds","zscore":1.27},{"date":"2012-08-20","series":"Corporate Bonds","zscore":0.54},{"date":"2012-10-07","series":"Corporate Bonds","zscore":1.21},{"date":"2012-11-24","series":"Corporate Bonds","zscore":0.74},
{"date":"2013-01-17","series":"Corporate Bonds","zscore":0.20},{"date":"2013-03-11","series":"Corporate Bonds","zscore":0.07},{"date":"2013-04-28","series":"Corporate Bonds","zscore":-1.07},{"date":"2013-06-02","series":"Corporate Bonds","zscore":-1.74},{"date":"2013-07-06","series":"Corporate Bonds","zscore":-1.88},{"date":"2013-08-23","series":"Corporate Bonds","zscore":-1.81},{"date":"2013-10-03","series":"Corporate Bonds","zscore":-1.34},{"date":"2013-11-20","series":"Corporate Bonds","zscore":-1.07},
{"date":"2014-01-07","series":"Corporate Bonds","zscore":-0.54},{"date":"2014-03-01","series":"Corporate Bonds","zscore":-1.01},{"date":"2014-04-25","series":"Corporate Bonds","zscore":0.0},{"date":"2014-06-12","series":"Corporate Bonds","zscore":0.74},{"date":"2014-07-29","series":"Corporate Bonds","zscore":0.87},{"date":"2014-09-23","series":"Corporate Bonds","zscore":1.01},{"date":"2014-11-17","series":"Corporate Bonds","zscore":1.47},
{"date":"2015-01-03","series":"Corporate Bonds","zscore":0.80},{"date":"2015-02-20","series":"Corporate Bonds","zscore":-0.13},{"date":"2015-04-14","series":"Corporate Bonds","zscore":-0.07},{"date":"2015-06-08","series":"Corporate Bonds","zscore":-0.40},{"date":"2015-07-25","series":"Corporate Bonds","zscore":-0.27},{"date":"2015-09-12","series":"Corporate Bonds","zscore":-0.54},{"date":"2015-11-06","series":"Corporate Bonds","zscore":-0.80},{"date":"2015-12-09","series":"Corporate Bonds","zscore":-1.61},
{"date":"2016-01-13","series":"Corporate Bonds","zscore":-0.40},{"date":"2016-03-07","series":"Corporate Bonds","zscore":0.54},{"date":"2016-04-24","series":"Corporate Bonds","zscore":1.14},{"date":"2016-06-11","series":"Corporate Bonds","zscore":1.21},{"date":"2016-08-05","series":"Corporate Bonds","zscore":0.67},{"date":"2016-09-29","series":"Corporate Bonds","zscore":-0.07},{"date":"2016-11-16","series":"Corporate Bonds","zscore":0.0},
{"date":"2017-01-04","series":"Corporate Bonds","zscore":-0.47},{"date":"2017-02-27","series":"Corporate Bonds","zscore":-0.54},{"date":"2017-04-22","series":"Corporate Bonds","zscore":-0.74},{"date":"2017-06-09","series":"Corporate Bonds","zscore":-1.01},{"date":"2017-07-26","series":"Corporate Bonds","zscore":-0.60},{"date":"2017-09-19","series":"Corporate Bonds","zscore":0.07},{"date":"2017-11-12","series":"Corporate Bonds","zscore":0.60},{"date":"2017-12-30","series":"Corporate Bonds","zscore":0.0},
{"date":"2018-02-17","series":"Corporate Bonds","zscore":-0.47},{"date":"2018-04-11","series":"Corporate Bonds","zscore":-0.74},{"date":"2018-06-04","series":"Corporate Bonds","zscore":-1.01},{"date":"2018-07-22","series":"Corporate Bonds","zscore":-1.14},{"date":"2018-08-26","series":"Corporate Bonds","zscore":-1.54},{"date":"2018-09-29","series":"Corporate Bonds","zscore":-1.41},{"date":"2018-11-16","series":"Corporate Bonds","zscore":-0.80},
{"date":"2019-01-09","series":"Corporate Bonds","zscore":-0.27},{"date":"2019-03-03","series":"Corporate Bonds","zscore":0.27},{"date":"2019-04-20","series":"Corporate Bonds","zscore":1.01},{"date":"2019-06-07","series":"Corporate Bonds","zscore":1.61},{"date":"2019-07-18","series":"Corporate Bonds","zscore":1.81},{"date":"2019-08-21","series":"Corporate Bonds","zscore":2.08},{"date":"2019-09-25","series":"Corporate Bonds","zscore":1.61},{"date":"2019-10-29","series":"Corporate Bonds","zscore":1.88},{"date":"2019-12-02","series":"Corporate Bonds","zscore":1.54},{"date":"2019-12-29","series":"Corporate Bonds","zscore":2.14},
{"date":"2020-02-10","series":"Corporate Bonds","zscore":1.34},{"date":"2020-03-06","series":"Corporate Bonds","zscore":1.68},{"date":"2020-04-17","series":"Corporate Bonds","zscore":1.14},{"date":"2020-06-04","series":"Corporate Bonds","zscore":1.14},{"date":"2020-07-21","series":"Corporate Bonds","zscore":0.67},{"date":"2020-09-01","series":"Corporate Bonds","zscore":0.94},{"date":"2020-09-28","series":"Corporate Bonds","zscore":0.0},{"date":"2020-11-08","series":"Corporate Bonds","zscore":-0.67},{"date":"2020-12-26","series":"Corporate Bonds","zscore":-0.94},
{"date":"2021-02-13","series":"Corporate Bonds","zscore":-1.01},{"date":"2021-03-24","series":"Corporate Bonds","zscore":-1.14},{"date":"2021-05-10","series":"Corporate Bonds","zscore":-0.87},{"date":"2021-06-14","series":"Corporate Bonds","zscore":-1.07},{"date":"2021-07-18","series":"Corporate Bonds","zscore":-0.67},{"date":"2021-08-21","series":"Corporate Bonds","zscore":-0.80},{"date":"2021-09-25","series":"Corporate Bonds","zscore":-1.14},{"date":"2021-11-12","series":"Corporate Bonds","zscore":-1.14},{"date":"2021-12-23","series":"Corporate Bonds","zscore":-1.34},{"date":"2022-02-10","series":"Corporate Bonds","zscore":-1.27}
]
},
"vconcat": [
{
"width": 586, "height": 198,
"layer": [
{
"data": {"name": "impact"},
"mark": {"type": "line", "color": "#000000", "strokeWidth": 2, "strokeJoin": "round"},
"encoding": {
"x": {"field": "date", "type": "temporal",
"scale": {"domain": [{"year": 1990, "month": 10, "date": 6}, {"year": 2023, "month": 9, "date": 1}]},
"axis": {"title": null, "labels": false, "values": [{"year": 1993, "month": 3, "date": 1}, {"year": 1998, "month": 3, "date": 1}, {"year": 2003, "month": 3, "date": 1}, {"year": 2008, "month": 3, "date": 1}, {"year": 2013, "month": 3, "date": 1}, {"year": 2018, "month": 3, "date": 1}]}},
"y": {"field": "impact", "type": "quantitative",
"scale": {"domain": [-0.0391, 0.0627], "nice": false, "zero": false},
"axis": {"title": "Impact on correlation", "values": [-0.02, 0, 0.02, 0.04, 0.06], "format": ".2f", "labelPadding": 8, "titlePadding": 6}}
}
},
{
"data": {"name": "cond"},
"mark": {"type": "line", "strokeWidth": 2, "strokeJoin": "round"},
"encoding": {
"x": {"field": "date", "type": "temporal"},
"y": {"field": "conditional", "type": "quantitative",
"scale": {"domain": [-1.091, 0.986], "nice": false, "zero": false},
"axis": {"orient": "right", "title": "Conditional correlation", "values": [-1, -0.5, 0, 0.5], "format": ".1f", "labelPadding": 5, "titlePadding": 2, "titleAngle": 270, "titleBaseline": "top"}},
"color": {"datum": "Conditional", "type": "nominal",
"scale": {"domain": ["Conditional"], "range": ["#808080"]},
"legend": {"orient": "bottom-left", "offset": 8, "title": null}}
}
}
],
"resolve": {"scale": {"y": "independent"}}
},
{
"width": 586, "height": 199,
"data": {"name": "assets"},
"encoding": {
"x": {"field": "date", "type": "temporal",
"scale": {"domain": [{"year": 1990, "month": 10, "date": 6}, {"year": 2023, "month": 9, "date": 1}]},
"axis": {"title": "date", "format": "%b-%y", "titlePadding": 2, "values": [{"year": 1993, "month": 3, "date": 1}, {"year": 1998, "month": 3, "date": 1}, {"year": 2003, "month": 3, "date": 1}, {"year": 2008, "month": 3, "date": 1}, {"year": 2013, "month": 3, "date": 1}, {"year": 2018, "month": 3, "date": 1}]}},
"y": {"field": "zscore", "type": "quantitative",
"scale": {"domain": [-4.39, 3.57], "nice": false, "zero": false},
"axis": {"title": "asset returns (z-score, SMA)", "values": [-4, -2, 0, 2], "format": "d", "labelPadding": 8, "titlePadding": 6}},
"color": {"field": "series", "type": "nominal",
"scale": {"domain": ["Large-Cap Stocks", "Corporate Bonds"], "range": ["#ff0000", "#808080"]},
"legend": {"orient": "bottom-right", "offset": 9, "title": null}}
},
"layer": [
{"transform": [{"filter": "datum.series === 'Large-Cap Stocks'"}], "mark": {"type": "line", "strokeWidth": 2, "strokeJoin": "round"}},
{"transform": [{"filter": "datum.series === 'Corporate Bonds'"}], "mark": {"type": "line", "strokeWidth": 2, "strokeJoin": "round"}}
]
}
],
"spacing": 40,
"bounds": "flush",
"resolve": {"scale": {"color": "independent", "x": "independent"}, "legend": {"color": "independent"}},
"config": {
"font": "DejaVu Sans",
"view": {"stroke": "#1a1a1a", "strokeWidth": 1.1},
"axis": {"grid": false, "domain": false, "tickColor": "#1a1a1a", "tickWidth": 1.1, "tickSize": 6, "labelFontSize": 16, "labelColor": "#1a1a1a", "titleFontSize": 16, "titleFontWeight": "normal", "titleColor": "#1a1a1a", "labelPadding": 5},
"legend": {"labelFontSize": 16, "labelColor": "#1a1a1a", "symbolType": "M-1,0H3.2", "symbolStrokeWidth": 2, "symbolSize": 256, "strokeColor": "#cccccc", "fillColor": "rgba(255,255,255,0.8)", "cornerRadius": 4, "padding": 7, "rowPadding": 8, "labelOffset": 30}
}
}
